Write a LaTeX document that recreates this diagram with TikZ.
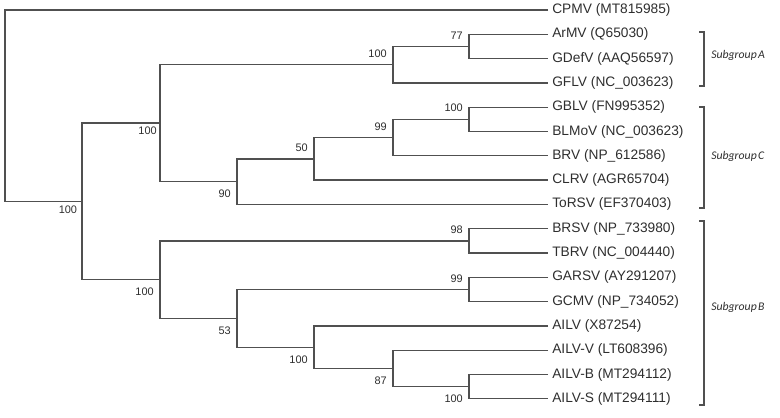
\documentclass[tikz,border=0pt]{standalone}
\usepackage{fontspec}
\setmainfont{Liberation Sans}
\newfontfamily\groupfont{Carlito}
\usetikzlibrary{calc}
\definecolor{branchgray}{HTML}{505050}
\definecolor{labelgray}{HTML}{2E2E2E}
\tikzset{
    branch/.style={draw=branchgray,line width=1pt},
    taxon/.style={anchor=west,inner xsep=3pt,inner ysep=0pt,text=labelgray,font=\fontsize{10.3}{12}\selectfont},
    boot/.style={inner sep=0pt,text=labelgray,font=\fontsize{8.2}{10}\selectfont},
    bootup/.style={boot,anchor=south east,xshift=-4.5pt,yshift=5.25pt},
    bootdown/.style={boot,anchor=north east,xshift=-4.5pt,yshift=-6pt},
    groupname/.style={anchor=west,inner sep=0pt,text=labelgray,font=\groupfont\itshape\fontsize{8.8}{11}\selectfont},
}
\newcommand\Leaf[3]{%
    \node[taxon] (#1) at (548,#2) {#3};
}
\newcommand\Clade[6]{%
    \coordinate (Mid) at ($(#3)!0.5!(#4)$);
    \coordinate (XRef) at (#2,0);
    \coordinate (#1) at (XRef |- Mid);
    \draw[branch] (#3) -| (#1) |- (#4);
    \node[#6] at (#1) {#5};
}
\newcommand\Bracket[4]{%
    \draw[branch,line width=0.8pt] (699,#1) -- (704,#1) -- (704,#2) -- (699,#2);
    \node[groupname] at (711,#3) {Subgroup\hspace{0.12em}#4};
}

\begin{document}
\begin{tikzpicture}[x=0.75pt,y=-0.75pt]
    \useasboundingbox (0,0) rectangle (780,417);
    % taxa
    \Leaf{CPMV}{10}{CPMV (MT815985)}
    \Leaf{ArMV}{34.3}{ArMV (Q65030)}
    \Leaf{GDefV}{58.6}{GDefV (AAQ56597)}
    \Leaf{GFLV}{82.9}{GFLV (NC\_003623)}
    \Leaf{GBLV}{107.2}{GBLV (FN995352)}
    \Leaf{BLMoV}{131.5}{BLMoV (NC\_003623)}
    \Leaf{BRV}{155.8}{BRV (NP\_612586)}
    \Leaf{CLRV}{180.1}{CLRV (AGR65704)}
    \Leaf{ToRSV}{204.4}{ToRSV (EF370403)}
    \Leaf{BRSV}{228.7}{BRSV (NP\_733980)}
    \Leaf{TBRV}{253}{TBRV (NC\_004440)}
    \Leaf{GARSV}{277.3}{GARSV (AY291207)}
    \Leaf{GCMV}{301.6}{GCMV (NP\_734052)}
    \Leaf{AILV}{325.9}{AILV (X87254)}
    \Leaf{AILVV}{350.2}{AILV-V (LT608396)}
    \Leaf{AILVB}{374.5}{AILV-B (MT294112)}
    \Leaf{AILVS}{398.8}{AILV-S (MT294111)}
    % A
    \Clade{NodeArMV}{469}{ArMV.west}{GDefV.west}{77}{bootup}
    \Clade{SubA}{393}{NodeArMV}{GFLV.west}{100}{bootup}
    % C
    \Clade{NodeGBLV}{469}{GBLV.west}{BLMoV.west}{100}{bootup}
    \Clade{NodeBRV}{393}{NodeGBLV}{BRV.west}{99}{bootup}
    \Clade{NodeCLRV}{314}{NodeBRV}{CLRV.west}{50}{bootup}
    \Clade{SubC}{237}{NodeCLRV}{ToRSV.west}{90}{bootdown}
    \Clade{SubAC}{160}{SubA}{SubC}{100}{bootdown,xshift=2.25pt,yshift=3.75pt}
    % B
    \Clade{NodeBRSV}{469}{BRSV.west}{TBRV.west}{98}{bootup}
    \Clade{NodeGARSV}{469}{GARSV.west}{GCMV.west}{99}{bootup}
    \Clade{NodeAILVB}{469}{AILVB.west}{AILVS.west}{100}{bootdown}
    \Clade{NodeAILVV}{393}{AILVV.west}{NodeAILVB}{87}{bootdown}
    \Clade{NodeAILV}{314}{AILV.west}{NodeAILVV}{100}{bootdown}
    \Clade{NodeGCMV}{237}{NodeGARSV}{NodeAILV}{53}{bootdown}
    \Clade{SubB}{160}{NodeBRSV}{NodeGCMV}{100}{bootdown}
    \Clade{Ingroup}{82}{SubAC}{SubB}{100}{bootdown,xshift=1pt,yshift=3pt}
    % root
    \coordinate (Mid) at ($(CPMV.west)!0.5!(Ingroup)$);
    \coordinate (XRef) at (5,0);
    \coordinate (Root) at (XRef |- Mid);
    \draw[branch] (CPMV.west) -| (Root) |- (Ingroup);
    % subgroups
    \Bracket{32}{86}{55}{A}
    \Bracket{107}{208}{156}{C}
    \Bracket{221}{405}{307}{B}
\end{tikzpicture}
\end{document}
